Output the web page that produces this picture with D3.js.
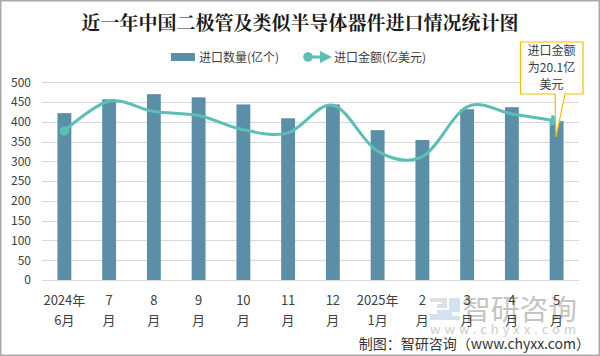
<!DOCTYPE html>
<html><head><meta charset="utf-8">
<script src="https://cdn.jsdelivr.net/npm/d3@7"></script>
<style>
html,body{margin:0;padding:0;background:#fff;}
svg{display:block;font-family:"Noto Sans CJK SC","Noto Sans",sans-serif;}
</style></head>
<body>
<svg id="chart" width="600" height="356"></svg>
<script>
const categoriesTop = ["2024年","7","8","9","10","11","12","2025年","2","3","4","5"];
const categoriesBottom = ["6月","月","月","月","月","月","月","1月","月","月","月","月"];
const importQty = [422,457,470,462,444,409,444,379,354,432,437,402];
const importValue = [18.85,22.6,21.3,20.8,19.0,18.6,22.1,16.3,15.6,21.9,21.0,20.1];
const yTicks = [0,50,100,150,200,250,300,350,400,450,500];
const title = "近一年中国二极管及类似半导体器件进口情况统计图";
const legendBar = "进口数量(亿个)";
const legendLine = "进口金额(亿美元)";
const calloutLines = ["进口金额","为20.1亿","美元"];
const credit = "制图：智研咨询（www.chyxx.com）";

const svg = d3.select("#chart");
const barColor = "#5b8fa7", lineColor = "#5cbfb4", textColor = "#404040";

svg.append("rect").attr("x",0.75).attr("y",0.75).attr("width",598.5).attr("height",354.5)
  .attr("fill","#fff").attr("stroke","#a9a9a9").attr("stroke-width",1.5);

const x = d3.scaleBand().domain(d3.range(categoriesTop.length)).range([42,579]).paddingInner(0.69).paddingOuter(0.345);
const y = d3.scaleLinear().domain([0,500]).range([280,82.3]);
const y2 = d3.scaleLinear().domain([0,25]).range([280,82.3]);

// grid
svg.append("g").selectAll("line").data(yTicks).join("line")
  .attr("x1",42).attr("x2",579).attr("y1",d=>Math.round(y(d))+0.5).attr("y2",d=>Math.round(y(d))+0.5)
  .attr("stroke","#d9d9d9").attr("stroke-width",1);

// y axis labels
const yAxis = d3.axisLeft(y).tickValues(yTicks).tickSize(0).tickPadding(0);
const ga = svg.append("g").attr("transform","translate(31,0)").call(yAxis);
ga.select(".domain").remove();
ga.selectAll("text").attr("fill",textColor).style("font-size","12px").style("font-family","'Noto Sans CJK SC',sans-serif");

// bars
const cx = i => x(i) + x.bandwidth()/2;
svg.append("g").selectAll("rect").data(importQty).join("rect")
  .attr("x",(d,i)=>x(i)).attr("width",x.bandwidth())
  .attr("y",d=>y(d)).attr("height",d=>y(0)-y(d)).attr("fill",barColor);

// watermark (behind labels)
const wm = svg.append("g").attr("opacity",0.5);
wm.append("path").attr("d","M430,298 H447 V308 H437 V304 H442 V302 H430 Z").attr("fill","#b9c3cf");
wm.append("path").attr("d","M449,298 H460 V312 H452 V316 H460 V320 H430 V314 H437 V310 H449 Z").attr("fill","#a9c6e3");
wm.append("text").attr("x",462).attr("y",320).attr("fill","#8a8a8a").style("font-size","28px")
  .attr("textLength",115).attr("lengthAdjust","spacingAndGlyphs").text("智研咨询");
wm.append("text").attr("x",430).attr("y",334).attr("fill","#9a9a9a").style("font-size","13px")
  .attr("textLength",146).attr("lengthAdjust","spacing").text("www.chyxx.com");

// x labels
const gx = svg.append("g");
categoriesTop.forEach((t,i)=>{
  gx.append("text").attr("x",cx(i)).attr("y",305).attr("text-anchor","middle")
    .attr("fill",textColor).style("font-size","13px").text(t);
  gx.append("text").attr("x",cx(i)).attr("y",325).attr("text-anchor","middle")
    .attr("fill",textColor).style("font-size","13px").text(categoriesBottom[i]);
});

// markers
const defs = svg.append("defs");
defs.append("marker").attr("id","arrow").attr("viewBox","0 0 10 10").attr("refX",5).attr("refY",5)
  .attr("markerWidth",4).attr("markerHeight",4).attr("orient","auto").attr("markerUnits","strokeWidth")
  .append("path").attr("d","M0,0 L10,5 L0,10 z").attr("fill",lineColor);
defs.append("marker").attr("id","dot").attr("viewBox","0 0 10 10").attr("refX",5).attr("refY",5)
  .attr("markerWidth",3.2).attr("markerHeight",3.2).attr("markerUnits","strokeWidth")
  .append("circle").attr("cx",5).attr("cy",5).attr("r",5).attr("fill",lineColor);

// line
const line = d3.line().x((d,i)=>cx(i)).y(d=>y2(d)).curve(d3.curveCardinal.tension(0));
svg.append("path").datum(importValue).attr("d",line).attr("fill","none")
  .attr("stroke",lineColor).attr("stroke-width",3).attr("stroke-linecap","round")
  .attr("marker-start","url(#dot)").attr("marker-end","url(#arrow)");

// title
svg.append("text").attr("x",300).attr("y",30).attr("text-anchor","middle")
  .attr("fill","#1a1a1a").style("font-size","19px").style("font-weight","bold")
  .style("font-family","'Noto Serif CJK SC','Noto Sans CJK SC',serif").text(title);

// legend
const lg = svg.append("g");
lg.append("rect").attr("x",171).attr("y",53).attr("width",24).attr("height",8).attr("fill",barColor);
lg.append("text").attr("x",199).attr("y",61.5).attr("fill",textColor).style("font-size","12px").text(legendBar);
lg.append("line").attr("x1",308).attr("x2",326).attr("y1",57).attr("y2",57).attr("stroke",lineColor).attr("stroke-width",3)
  .attr("marker-start","url(#dot)").attr("marker-end","url(#arrow)");
lg.append("text").attr("x",334).attr("y",61.5).attr("fill",textColor).style("font-size","12px").text(legendLine);

// callout
const bx0=520.5, bx1=583, by0=42, by1=94;
svg.append("path")
  .attr("d",`M${bx0},${by0} H${bx1} V${by1} H${565} L${556},${137} L${555},${by1} H${bx0} Z`)
  .attr("fill","#fff").attr("stroke","#f5bc00").attr("stroke-width",1.2);
calloutLines.forEach((t,i)=>{
  svg.append("text").attr("x",551.5).attr("y",55+i*17).attr("text-anchor","middle")
    .attr("fill",textColor).style("font-size","12px").text(t);
});

// credit
svg.append("text").attr("x",590).attr("y",349).attr("text-anchor","end").attr("fill","#333")
  .style("font-size","14px").style("font-family","'Noto Sans CJK SC','Liberation Serif',serif").text(credit);
</script>
</body></html>
